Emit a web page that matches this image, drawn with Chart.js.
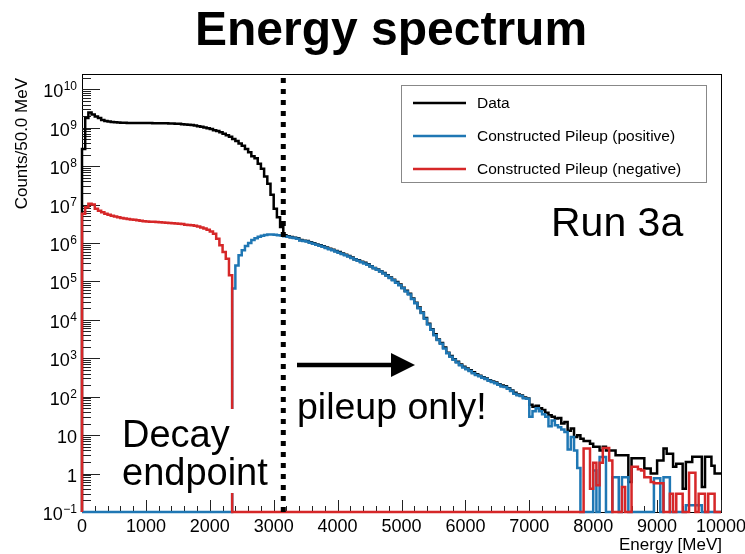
<!DOCTYPE html>
<html>
<head>
<meta charset="utf-8">
<title>Energy spectrum</title>
<script src="https://cdn.jsdelivr.net/npm/chart.js@4"></script>
<style>
  html, body { margin: 0; padding: 0; background: #fff; }
  #wrap { width: 745px; height: 554px; }
</style>
</head>
<body>
<div id="wrap"><canvas id="spectrum" width="745" height="554"></canvas></div>
<script>
// binning: 200 bins of 50 MeV from 0 to 10000 MeV
const BIN_WIDTH = 50;
const X_MIN = 0;
const X_MAX = 10000;
const Y_MIN = 0.1;
const Y_MAX = 2.5e10;
const CUT_ENERGY = 3150; // dotted line

const X_TICKS = [0, 1000, 2000, 3000, 4000, 5000, 6000, 7000, 8000, 9000, 10000];
const Y_DECADES = [-1, 0, 1, 2, 3, 4, 5, 6, 7, 8, 9, 10];

const SERIES_LABELS = ['Data', 'Constructed Pileup (positive)', 'Constructed Pileup (negative)'];
const SERIES_COLORS = ['#000000', '#1f77b4', '#d62728'];

// counts per bin, rows of 10 bins (500 MeV)
const dataCounts = [
  2.8e8, 1.8e9, 2.5e9, 2.2e9, 1.95e9, 1.8e9, 1.6e9, 1.5e9, 1.45e9, 1.4e9,
  1.38e9, 1.36e9, 1.35e9, 1.34e9, 1.33e9, 1.33e9, 1.33e9, 1.32e9, 1.32e9, 1.32e9,
  1.32e9, 1.32e9, 1.31e9, 1.31e9, 1.31e9, 1.3e9, 1.3e9, 1.29e9, 1.28e9, 1.27e9,
  1.26e9, 1.24e9, 1.22e9, 1.2e9, 1.17e9, 1.14e9, 1.1e9, 1.06e9, 1.02e9, 9.7e8,
  9.2e8, 8.6e8, 8.2e8, 7.6e8, 7.0e8, 6.4e8, 5.8e8, 5.1e8, 4.5e8, 3.9e8,
  3.4e8, 2.8e8, 2.3e8, 1.8e8, 1.6e8, 1.15e8, 8.5e7, 5.4e7, 3.5e7, 1.8e7,
  7.8e6, 4.7e6, 2.6e6, 1.6e6, 1.5e6, 1.43e6, 1.38e6, 1.33e6, 1.2e6, 1.15e6,
  1.12e6, 1.05e6, 9.8e5, 9.2e5, 8.7e5, 8.2e5, 7.6e5, 7.1e5, 6.7e5, 6.2e5,
  5.8e5, 5.35e5, 4.95e5, 4.6e5, 4.2e5, 3.8e5, 3.55e5, 3.25e5, 3.05e5, 2.8e5,
  2.5e5, 2.25e5, 2.05e5, 1.85e5, 1.65e5, 1.45e5, 1.27e5, 1.1e5, 9.6e4, 8.3e4,
  6.8e4, 5.7e4, 4.8e4, 3.6e4, 2.8e4, 2.1e4, 1.55e4, 1.12e4, 7.9e3, 5.7e3,
  4.2e3, 3.1e3, 2.5e3, 1.9e3, 1.4e3, 1.15e3, 950, 810, 690, 600,
  540, 490, 430, 385, 350, 320, 300, 270, 250, 233,
  212, 195, 186, 166, 146, 126, 115, 108, 95, 90,
  62, 55, 58, 50, 45, 38, 33, 30, 27, 28,
  20, 22, 13, 15, 9, 10, 8, 7, 7, 6,
  5, 5, 4, 5, 4, 4, 4, 3, 3, 3,
  3, 0.6, 2.5, 2.5, 2.5, 2.5, 1.35, 1.35, 1, 1,
  2.2, 2.2, 4.5, 3.3, 3.3, 1.5, 1.8, 1.8, 0.4, 2,
  2, 2.75, 2.75, 2.75, 0.45, 2.75, 2.75, 1.6, 1, 1
];

const pileupPositive = [
  0, 0, 0, 0, 0, 0, 0, 0, 0, 0,
  0, 0, 0, 0, 0, 0, 0, 0, 0, 0,
  0, 0, 0, 0, 0, 0, 0, 0, 0, 0,
  0, 0, 0, 0, 0, 0, 0, 0, 0, 0,
  0, 0, 0, 0, 0, 0, 0, 6.5e4, 2.6e5, 4.8e5,
  6.5e5, 8.3e5, 1.0e6, 1.2e6, 1.32e6, 1.45e6, 1.55e6, 1.62e6, 1.66e6, 1.66e6,
  1.63e6, 1.6e6, 1.56e6, 1.5e6, 1.45e6, 1.4e6, 1.35e6, 1.3e6, 1.17e6, 1.12e6,
  1.1e6, 1.02e6, 9.6e5, 9.0e5, 8.5e5, 8.0e5, 7.4e5, 6.9e5, 6.5e5, 6.0e5,
  5.6e5, 5.2e5, 4.8e5, 4.45e5, 4.1e5, 3.7e5, 3.45e5, 3.15e5, 2.95e5, 2.7e5,
  2.45e5, 2.2e5, 2.0e5, 1.8e5, 1.6e5, 1.4e5, 1.23e5, 1.07e5, 9.3e4, 8.0e4,
  6.6e4, 5.5e4, 4.6e4, 3.5e4, 2.7e4, 2.0e4, 1.5e4, 1.07e4, 7.6e3, 5.5e3,
  4.0e3, 3.0e3, 2.4e3, 1.8e3, 1.35e3, 1.1e3, 910, 780, 660, 580,
  520, 470, 410, 370, 340, 310, 290, 260, 240, 225,
  205, 185, 180, 160, 140, 120, 110, 105, 91, 89,
  30, 42, 50, 42, 35, 30, 17, 24, 18, 16,
  14, 12, 4.2, 9, 4, 1.4, 0, 0, 0, 0,
  1.2, 0, 2.7, 2.7, 0, 0, 0.8, 0.8, 0, 0.8,
  0.8, 0, 0, 0, 0, 0, 0, 0, 0, 0.76,
  0.76, 0, 0.8, 0.8, 0, 0, 0, 0, 0, 0.15,
  0.15, 0.15, 0.15, 0.15, 0, 0, 0, 0, 0, 0
];

const pileupNegative = [
  5.8e6, 8.5e6, 1.05e7, 1.0e7, 7.8e6, 6.9e6, 6.3e6, 5.8e6, 5.4e6, 5.1e6,
  4.9e6, 4.7e6, 4.5e6, 4.35e6, 4.2e6, 4.1e6, 4.0e6, 3.9e6, 3.8e6, 3.7e6,
  3.65e6, 3.6e6, 3.55e6, 3.5e6, 3.45e6, 3.4e6, 3.35e6, 3.3e6, 3.25e6, 3.2e6,
  3.15e6, 3.1e6, 3.0e6, 2.95e6, 2.9e6, 2.8e6, 2.7e6, 2.55e6, 2.4e6, 2.2e6,
  2.0e6, 1.75e6, 1.3e6, 8.7e5, 5.8e5, 3.9e5, 1.45e5, 0, 0, 0,
  0, 0, 0, 0, 0, 0, 0, 0, 0, 0,
  0, 0, 0, 0, 0, 0, 0, 0, 0, 0,
  0, 0, 0, 0, 0, 0, 0, 0, 0, 0,
  0, 0, 0, 0, 0, 0, 0, 0, 0, 0,
  0, 0, 0, 0, 0, 0, 0, 0, 0, 0,
  0, 0, 0, 0, 0, 0, 0, 0, 0, 0,
  0, 0, 0, 0, 0, 0, 0, 0, 0, 0,
  0, 0, 0, 0, 0, 0, 0, 0, 0, 0,
  0, 0, 0, 0, 0, 0, 0, 0, 0, 0,
  0, 0, 0, 0, 0, 0, 0, 0, 0, 0,
  0, 0, 0, 0, 0, 0, 0, 4.5, 4.5, 0.4,
  1.9, 0.5, 1.9, 4.6, 4.6, 2.2, 0, 0, 0, 0.45,
  0, 0, 1.5, 1.5, 1.3, 1.2, 0.8, 0.8, 0.6, 0.56,
  0.56, 0.56, 0, 0, 0.3, 0, 0.3, 0.3, 0, 0,
  1.05, 1.05, 0, 0.3, 0.3, 0, 0.3, 0.3, 0, 0
];

const FONT = "'Liberation Sans', Arial, Helvetica, sans-serif";

// histogram outline like ROOT: start on the floor, one point per bin low edge,
// empty bins sit on the floor of the log axis
function histPoints(counts) {
  const pts = [{ x: X_MIN, y: Y_MIN }];
  counts.forEach((c, i) => {
    pts.push({ x: X_MIN + i * BIN_WIDTH, y: Math.max(c, Y_MIN) });
  });
  pts.push({ x: X_MAX, y: Math.max(counts[counts.length - 1], Y_MIN) });
  return pts;
}

function histDataset(i, counts, order) {
  return {
    label: SERIES_LABELS[i],
    data: histPoints(counts),
    borderColor: SERIES_COLORS[i],
    borderWidth: 2.5,
    stepped: 'before',
    pointRadius: 0,
    fill: false,
    clip: 2,
    order: order
  };
}

function drawPow(ctx, exp, xRight, y) {
  ctx.fillStyle = '#000';
  ctx.textAlign = 'right';
  ctx.textBaseline = 'alphabetic';
  if (exp === 0 || exp === 1) {
    ctx.font = '18px ' + FONT;
    ctx.fillText(exp === 0 ? '1' : '10', xRight, y + 8);
    return;
  }
  const sup = exp < 0 ? '\u2212' + (-exp) : String(exp);
  ctx.font = '12px ' + FONT;
  const w = ctx.measureText(sup).width;
  ctx.fillText(sup, xRight, y + 1);
  ctx.font = '18px ' + FONT;
  ctx.fillText('10', xRight - w - 0.5, y + 8);
}

const rootStyle = {
  id: 'rootStyle',
  beforeDatasetsDraw(chart) {
    const ctx = chart.ctx;
    const a = chart.chartArea;
    const xs = chart.scales.x;
    const ys = chart.scales.y;
    ctx.save();

    // frame
    ctx.strokeStyle = '#000';
    ctx.lineWidth = 1;
    ctx.strokeRect(a.left + 0.5, a.top + 0.5, a.right - a.left, a.bottom - a.top);

    // x ticks, pointing inside
    ctx.strokeStyle = '#222';
    ctx.beginPath();
    for (let v = X_MIN; v <= X_MAX; v += 200) {
      const px = Math.round(xs.getPixelForValue(v)) + 0.5;
      const len = v % 1000 === 0 ? 12 : 6;
      ctx.moveTo(px, a.bottom);
      ctx.lineTo(px, a.bottom - len);
    }
    ctx.stroke();

    // y ticks (log), pointing inside
    ctx.beginPath();
    Y_DECADES.forEach(e => {
      for (let k = 1; k <= 9; k++) {
        const v = k * Math.pow(10, e);
        if (v > Y_MAX) break;
        const py = Math.round(ys.getPixelForValue(v)) + 0.5;
        const len = k === 1 ? 18 : 9;
        ctx.moveTo(a.left, py);
        ctx.lineTo(a.left + len, py);
      }
    });
    ctx.stroke();
    ctx.restore();
  },
  afterDatasetsDraw(chart) {
    const ctx = chart.ctx;
    const xs = chart.scales.x;
    const ys = chart.scales.y;
    ctx.save();

    // text boxes
    ctx.fillStyle = '#fff';
    ctx.fillRect(118, 409, 154, 84);
    ctx.fillStyle = '#000';
    ctx.textAlign = 'left';
    ctx.textBaseline = 'alphabetic';
    ctx.font = '38px ' + FONT;
    ctx.fillText('Decay', 122, 447);
    ctx.fillText('endpoint', 122, 485);
    ctx.font = '37.5px ' + FONT;
    ctx.fillText('pileup only!', 297, 419);
    ctx.font = '41px ' + FONT;
    ctx.fillText('Run 3a', 551, 236);

    // arrow
    ctx.strokeStyle = '#000';
    ctx.lineWidth = 4.5;
    ctx.beginPath();
    ctx.moveTo(297, 365);
    ctx.lineTo(395, 365);
    ctx.stroke();
    ctx.beginPath();
    ctx.moveTo(391, 353);
    ctx.lineTo(415, 365);
    ctx.lineTo(391, 377);
    ctx.closePath();
    ctx.fill();

    // legend
    ctx.fillStyle = '#fff';
    ctx.fillRect(401, 85, 305, 97);
    ctx.strokeStyle = '#888';
    ctx.lineWidth = 1;
    ctx.strokeRect(401.5, 85.5, 305, 97);
    ctx.font = '15.5px ' + FONT;
    ctx.textBaseline = 'middle';
    [0, 1, 2].forEach(i => {
      const y = 103 + i * 33;
      const ds = chart.data.datasets[i];
      ctx.strokeStyle = ds.borderColor;
      ctx.lineWidth = 2.5;
      ctx.beginPath();
      ctx.moveTo(413, y);
      ctx.lineTo(466, y);
      ctx.stroke();
      ctx.fillStyle = '#000';
      ctx.fillText(ds.label, 477, y + 1);
    });

    // tick labels
    ctx.fillStyle = '#000';
    ctx.font = '18px ' + FONT;
    ctx.textAlign = 'center';
    ctx.textBaseline = 'alphabetic';
    X_TICKS.forEach(v => {
      ctx.fillText(String(v), xs.getPixelForValue(v), 532);
    });
    Y_DECADES.forEach(e => {
      drawPow(ctx, e, 77, ys.getPixelForValue(Math.pow(10, e)));
    });

    // axis titles
    ctx.fillStyle = '#000';
    ctx.font = '17px ' + FONT;
    ctx.textAlign = 'right';
    ctx.textBaseline = 'alphabetic';
    ctx.fillText('Energy [MeV]', 722, 550);
    ctx.save();
    ctx.translate(27, 78);
    ctx.rotate(-Math.PI / 2);
    ctx.textAlign = 'right';
    ctx.fillText('Counts/50.0 MeV', 0, 0);
    ctx.restore();

    // title
    ctx.font = 'bold 48px ' + FONT;
    ctx.textAlign = 'center';
    ctx.fillText('Energy spectrum', 391, 45);

    ctx.restore();
  }
};

new Chart(document.getElementById('spectrum'), {
  type: 'line',
  data: {
    datasets: [
      histDataset(0, dataCounts, 3),
      histDataset(1, pileupPositive, 2),
      histDataset(2, pileupNegative, 1),
      {
        label: '',
        data: [{ x: CUT_ENERGY, y: Y_MIN }, { x: CUT_ENERGY, y: Y_MAX }],
        borderColor: '#000',
        borderWidth: 5,
        borderDash: [5, 6],
        borderCapStyle: 'butt',
        pointRadius: 0,
        order: 0
      }
    ]
  },
  options: {
    responsive: false,
    devicePixelRatio: 1,
    animation: false,
    layout: { padding: { left: 82, right: 24, top: 74, bottom: 42 } },
    scales: {
      x: { type: 'linear', min: X_MIN, max: X_MAX, display: false },
      y: { type: 'logarithmic', min: Y_MIN, max: Y_MAX, display: false }
    },
    plugins: {
      legend: { display: false },
      tooltip: { enabled: false }
    }
  },
  plugins: [rootStyle]
});
</script>
</body>
</html>
